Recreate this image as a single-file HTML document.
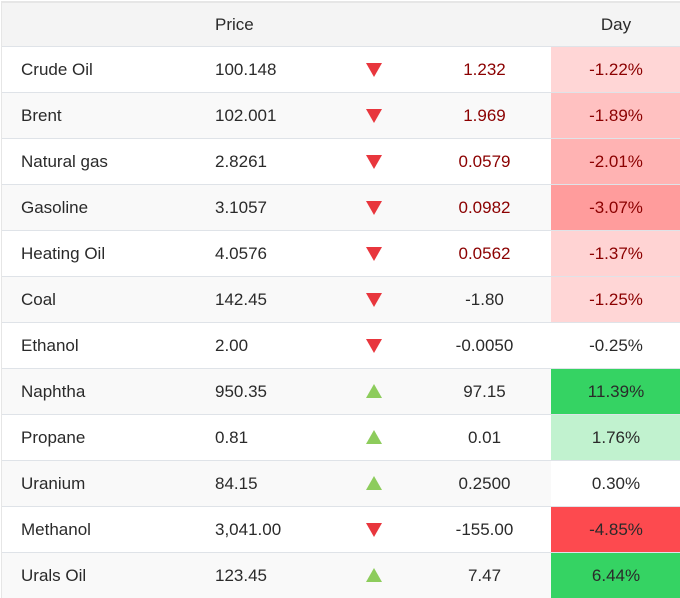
<!DOCTYPE html>
<html><head><style>
body{margin:0;background:#fff;font-family:"Liberation Sans",Arial,sans-serif;font-size:17px;color:#2a2a2a}
.w{position:absolute;left:1px;top:1px;width:679px;height:595px;border-top:2px solid #e6e6e6;border-left:1px solid #e6e6e6;overflow:hidden}
.r{position:absolute;left:0;width:679px;height:45px;border-bottom:1px solid #dfe3e8}
.r div{position:absolute;top:0;height:45px;line-height:45px}
.n{left:19px}.p{left:213px}
.r div.a{left:364px;top:16px;width:0;height:0;border-left:8px solid transparent;border-right:8px solid transparent}
.r div.dn{border-top:14px solid #e8363d}
.r div.up{border-bottom:14px solid #8dcc5c;top:15px}
.c{left:420px;width:125px;text-align:center}.d{left:549px;width:130px;text-align:center}
.red{color:#8b0000}
</style></head><body><div class="w">
<div class="r" style="top:0;height:43px;background:#f4f4f4"><div class="p" style="height:43px;line-height:43px">Price</div><div class="d" style="height:43px;line-height:43px">Day</div></div>
<div class="r" style="top:44px;background:#fff"><div class="n">Crude Oil</div><div class="p">100.148</div><div class="a dn"></div><div class="c red">1.232</div><div class="d red" style="background:#ffd6d6">-1.22%</div></div>
<div class="r" style="top:90px;background:#f9f9f9"><div class="n">Brent</div><div class="p">102.001</div><div class="a dn"></div><div class="c red">1.969</div><div class="d red" style="background:#ffc1c1">-1.89%</div></div>
<div class="r" style="top:136px;background:#fff"><div class="n">Natural gas</div><div class="p">2.8261</div><div class="a dn"></div><div class="c red">0.0579</div><div class="d red" style="background:#ffb3b3">-2.01%</div></div>
<div class="r" style="top:182px;background:#f9f9f9"><div class="n">Gasoline</div><div class="p">3.1057</div><div class="a dn"></div><div class="c red">0.0982</div><div class="d red" style="background:#ff9c9c">-3.07%</div></div>
<div class="r" style="top:228px;background:#fff"><div class="n">Heating Oil</div><div class="p">4.0576</div><div class="a dn"></div><div class="c red">0.0562</div><div class="d red" style="background:#ffd3d3">-1.37%</div></div>
<div class="r" style="top:274px;background:#f9f9f9"><div class="n">Coal</div><div class="p">142.45</div><div class="a dn"></div><div class="c">-1.80</div><div class="d red" style="background:#ffd6d6">-1.25%</div></div>
<div class="r" style="top:320px;background:#fff"><div class="n">Ethanol</div><div class="p">2.00</div><div class="a dn"></div><div class="c">-0.0050</div><div class="d" style="background:#fff">-0.25%</div></div>
<div class="r" style="top:366px;background:#f9f9f9"><div class="n">Naphtha</div><div class="p">950.35</div><div class="a up"></div><div class="c">97.15</div><div class="d" style="background:#35d363">11.39%</div></div>
<div class="r" style="top:412px;background:#fff"><div class="n">Propane</div><div class="p">0.81</div><div class="a up"></div><div class="c">0.01</div><div class="d" style="background:#c1f2cf">1.76%</div></div>
<div class="r" style="top:458px;background:#f9f9f9"><div class="n">Uranium</div><div class="p">84.15</div><div class="a up"></div><div class="c">0.2500</div><div class="d" style="background:#fff">0.30%</div></div>
<div class="r" style="top:504px;background:#fff"><div class="n">Methanol</div><div class="p">3,041.00</div><div class="a dn"></div><div class="c">-155.00</div><div class="d" style="background:#fd4a4f">-4.85%</div></div>
<div class="r" style="top:550px;background:#f9f9f9"><div class="n">Urals Oil</div><div class="p">123.45</div><div class="a up"></div><div class="c">7.47</div><div class="d" style="background:#35d363">6.44%</div></div>
</div></body></html>
